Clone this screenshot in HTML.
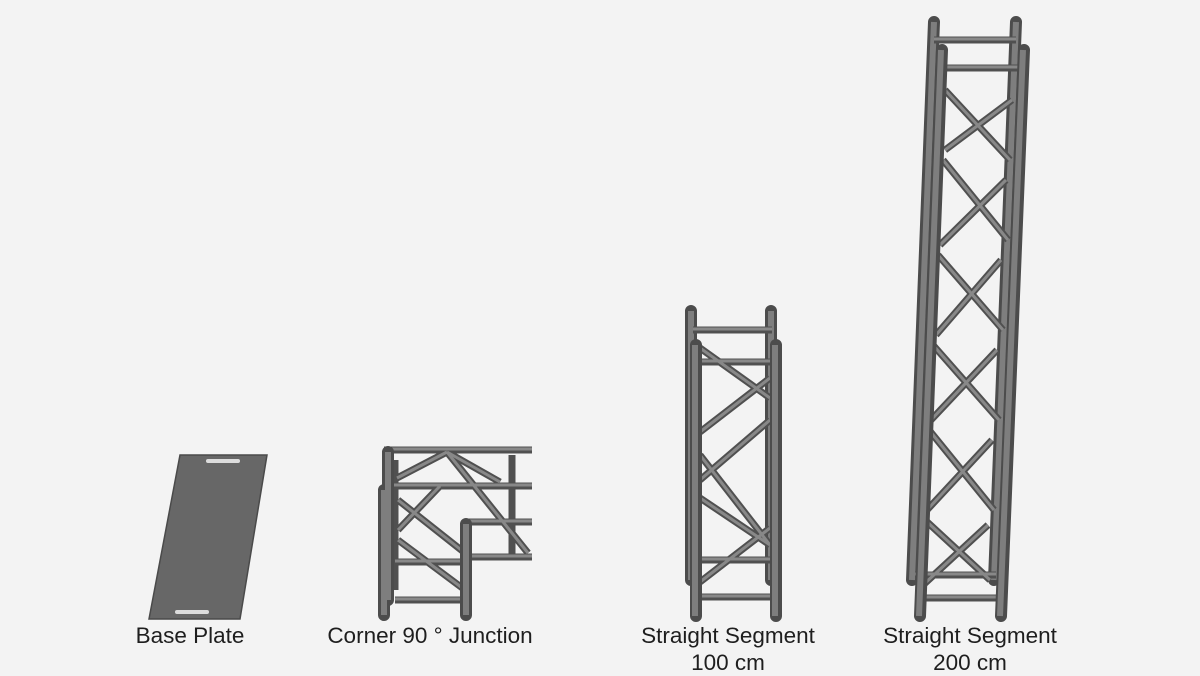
<!DOCTYPE html>
<html><head><style>
html,body{margin:0;padding:0;background:#f3f3f3;}
body{width:1200px;height:675px;position:relative;overflow:hidden;font-family:"Liberation Sans",sans-serif;}
.l{position:absolute;font-size:22.5px;color:#1e1e1e;text-align:center;width:260px;line-height:27px;}
</style></head><body>
<svg width="1200" height="675" style="position:absolute;left:0;top:0">
<defs>
<style>
.p{stroke:#4c4c4c;stroke-width:12;stroke-linecap:round;fill:none}
.pi{stroke:#7e7e7e;stroke-width:6;fill:none}
.b{stroke:#505050;stroke-width:7;fill:none}
.bi{stroke:#888;stroke-width:3;fill:none}
</style>
</defs>
<!-- Base plate -->
<polygon points="180,455 267,455 240,619 149,619" fill="#676767" stroke="#4a4a4a" stroke-width="1.5"/>
<rect x="206" y="459" width="34" height="4" rx="2" fill="#dcdcdc"/>
<rect x="175" y="610" width="34" height="4" rx="2" fill="#dcdcdc"/>

<!-- Corner junction -->
<g>
 <path class="b" d="M384,450 H532 M384,486 H532 M465,522 H532 M465,557 H532 M395,562 H465 M395,600 H465 M397,478 L447,452 M447,452 L500,482 M398,500 L465,553 M398,540 L465,590 M398,530 L440,486 M447,452 L528,553 M512,455 V560 M395,460 V590"/>
 <path class="bi" d="M384,449 H532 M384,485 H532 M465,521 H532 M465,556 H532 M395,561 H465 M395,599 H465 M397,478 L447,452 M447,452 L500,482 M398,500 L465,553 M398,540 L465,590 M398,530 L440,486 M447,452 L528,553"/>
 <path class="p" d="M388,452 V600 M384,490 V615 M466,524 V615"/>
 <path class="pi" d="M388,452 V600 M384,490 V615 M466,524 V615"/>
</g>

<!-- 100 cm -->
<g>
 <path class="p" d="M691,311 V580 M771,311 V580"/>
 <path class="pi" d="M691,311 V580 M771,311 V580"/>
 <path class="b" d="M693,330 H772 M697,362 H777 M697,560 H777 M697,597 H777 M700,348 L770,398 M700,432 L770,378 M700,480 L770,420 M700,455 L770,545 M700,498 L770,545 M700,582 L770,528"/>
 <path class="bi" d="M693,329 H772 M697,361 H777 M697,559 H777 M697,596 H777 M700,348 L770,398 M700,432 L770,378 M700,480 L770,420 M700,455 L770,545 M700,498 L770,545 M700,582 L770,528"/>
 <path class="p" d="M696,345 V616 M776,345 V616"/>
 <path class="pi" d="M695,345 V616 M775,345 V616"/>
</g>

<!-- 200 cm -->
<g>
 <path class="p" d="M934,22 L912,580 M1016,22 L994,580"/>
 <path class="pi" d="M934,22 L912,580 M1016,22 L994,580"/>
 <path class="b" d="M934,40 H1016 M941,68 H1023 M915,575 H996 M920,598 H1002
 M945,90 L1010,160 M945,150 L1012,100 M943,160 L1008,240 M940,245 L1006,180 M938,255 L1003,330 M936,335 L1001,260
 M933,345 L999,420 M931,420 L997,350 M929,430 L994,510 M927,510 L992,440 M925,520 L990,580 M923,585 L988,525"/>
 <path class="bi" d="M934,39 H1016 M941,67 H1023 M915,574 H996 M920,597 H1002
 M945,90 L1010,160 M945,150 L1012,100 M943,160 L1008,240 M940,245 L1006,180 M938,255 L1003,330 M936,335 L1001,260
 M933,345 L999,420 M931,420 L997,350 M929,430 L994,510 M927,510 L992,440 M925,520 L990,580 M923,585 L988,525"/>
 <path class="p" d="M942,50 L920,616 M1024,50 L1001,616"/>
 <path class="pi" d="M941,50 L919,616 M1023,50 L1000,616"/>
</g>
</svg>
<div class="l" style="left:60px;top:622px">Base Plate</div>
<div class="l" style="left:300px;top:622px">Corner 90 ° Junction</div>
<div class="l" style="left:598px;top:622px">Straight Segment<br>100 cm</div>
<div class="l" style="left:840px;top:622px">Straight Segment<br>200 cm</div>
</body></html>
